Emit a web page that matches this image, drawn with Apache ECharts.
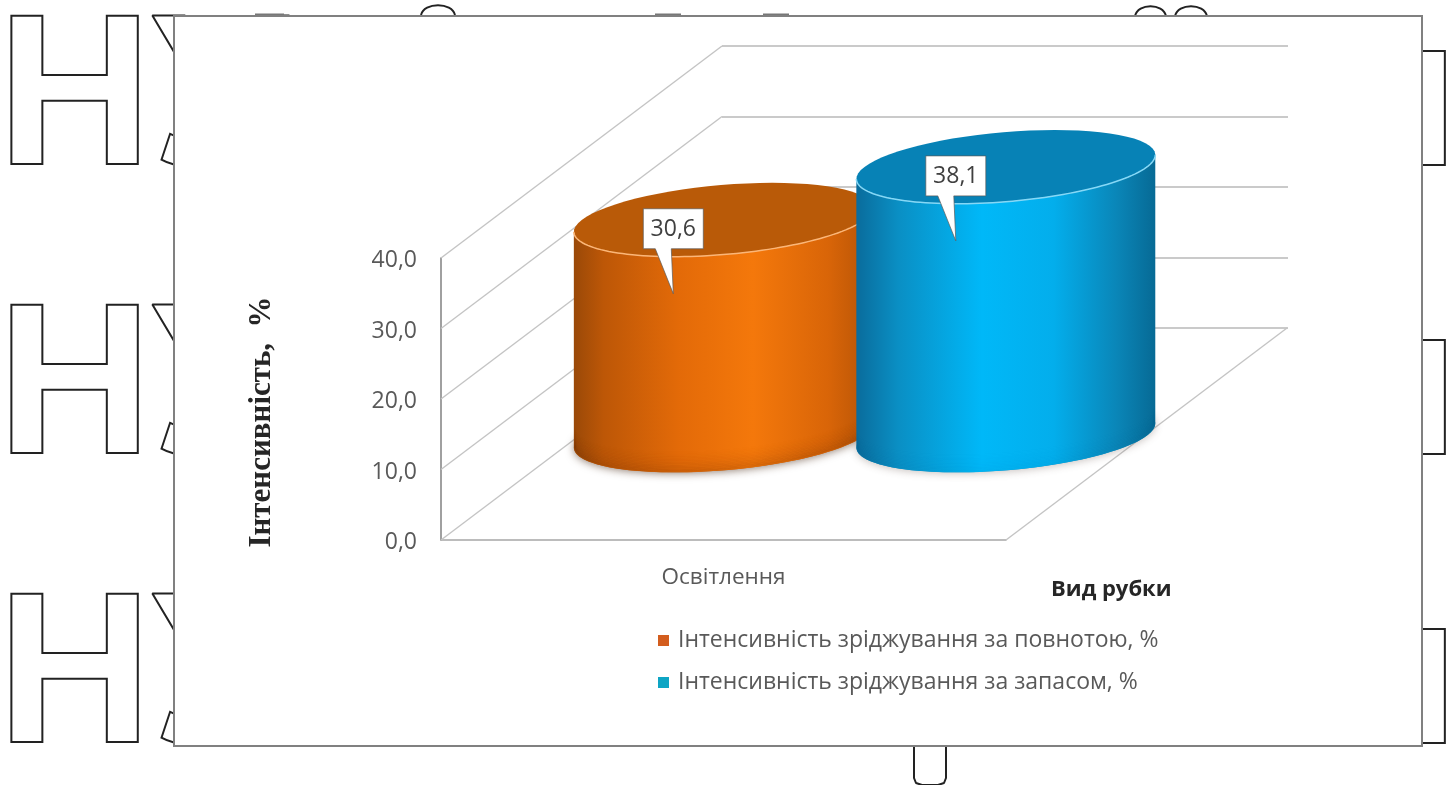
<!DOCTYPE html>
<html>
<head>
<meta charset="utf-8">
<style>html,body{margin:0;padding:0;background:#fff}#chart{width:1456px;height:785px}</style>
<script src="https://cdn.jsdelivr.net/npm/echarts@6/dist/echarts.min.js"></script>
</head>
<body>
<div id="chart"></div>
<script>
// Chart data
const categories = ['Освітлення'];
const seriesNames = ['Інтенсивність зріджування за повнотою, %', 'Інтенсивність зріджування за запасом, %'];
const fullnessValues = [30.6];
const stockValues = [38.1];
const tickValues = [0, 10, 20, 30, 40];
const yAxisTitle = 'Інтенсивність,  %';
const xAxisTitle = 'Вид рубки';

// Oblique projection of the chart box
const DEPTH_X = 281, DEPTH_Y = -212;   // front plane to back wall
const CENTER_DEPTH_X = 0.502;          // cylinder axis inside the box, horizontally
const CENTER_DEPTH_Y = 0.493;          // and vertically
const DEPTH_RADIUS = 0.174;            // cylinder radius along the depth direction

const UI_FONT = '"Open Sans", "Noto Sans", sans-serif';
const GRID_COLOR = '#c4c4c4';
const BACK_GRID_COLOR = '#b9b9b9';

const fmt = v => v.toFixed(1).replace('.', ',');

const palettes = [
  {
    legend: '#d35d1e',
    side: [[0, '#9a4908'], [0.1, '#bd5707'], [0.35, '#e36a08'], [0.6, '#f4780b'], [0.85, '#d96508'], [1, '#b55306']],
    top: '#b95a08', rim: '#fbb678', shade: [90, 35, 0], shadeAlpha: 0.16, shadow: 'rgba(70,40,20,0.6)'
  },
  {
    legend: '#0ea5c4',
    side: [[0, '#0a6c9c'], [0.14, '#0a8fc4'], [0.42, '#00b8f8'], [0.66, '#03aeec'], [0.87, '#0a86b8'], [1, '#076a95']],
    top: '#0782b6', rim: '#86d8f6', shade: [0, 60, 100], shadeAlpha: 0.03, shadow: 'rgba(90,70,60,0.35)'
  }
];

function ringPoints(cx, cy, a, dx, dy, from, to) {
  const pts = [];
  const n = 72;
  for (let i = 0; i <= n; i++) {
    const t = from + (to - from) * i / n;
    pts.push([cx + Math.cos(t) * a + Math.sin(t) * dx, cy + Math.sin(t) * dy]);
  }
  return pts;
}

function cylinderRenderer(slot) {
  const pal = palettes[slot];
  return function (params, api) {
    const cat = api.value(0), val = api.value(1);
    const base = api.coord([cat, 0]);
    const head = api.coord([cat, val]);
    const band = api.size([1, 0])[0];
    const cx = base[0] + (slot - 0.5) * band / 2 + DEPTH_X * CENTER_DEPTH_X;
    const baseY = base[1] + DEPTH_Y * CENTER_DEPTH_Y;
    const topY = head[1] + DEPTH_Y * CENTER_DEPTH_Y;
    const a = band / 4;
    const dx = DEPTH_X * DEPTH_RADIUS, dy = DEPTH_Y * DEPTH_RADIUS;
    const t0 = Math.atan2(dx, a);
    const left = t0 + Math.PI, right = t0 + 2 * Math.PI;

    const bottomArc = ringPoints(cx, baseY, a, dx, dy, left, right);
    const rimArc = ringPoints(cx, topY, a, dx, dy, left, right);
    const body = bottomArc.concat(rimArc.slice().reverse());

    // Darkening that follows the lower edge of the body
    const edgeShade = [];
    const shadeSteps = 16;
    for (let i = 0; i < shadeSteps; i++) {
      const fade = 1 - i / shadeSteps;
      edgeShade.push({
        type: 'polyline',
        shape: { points: ringPoints(cx, baseY - 1 - i * 1.4, a - 1, dx, dy, left, right) },
        style: { fill: null, stroke: `rgba(${pal.shade.join(',')},${(pal.shadeAlpha * fade * fade).toFixed(3)})`, lineWidth: 1.6 }
      });
    }

    // Callout anchored on the cap of the cylinder
    const bx0 = cx - 80, bx1 = cx - 20, by0 = topY - 11, by1 = topY + 29;
    const callout = [[bx0, by0], [bx1, by0], [bx1, by1], [cx - 52, by1], [cx - 50, topY + 74], [cx - 68, by1], [bx0, by1]];

    return {
      type: 'group',
      children: [
        { type: 'polygon', shape: { points: ringPoints(cx, baseY, a, dx, dy, 0, 2 * Math.PI) },
          style: { fill: pal.side[1][1], shadowBlur: 9, shadowColor: pal.shadow, shadowOffsetY: 1 } },
        { type: 'polygon', shape: { points: body },
          style: { fill: { type: 'linear', x: 0, y: 0, x2: 1, y2: 0, colorStops: pal.side.map(s => ({ offset: s[0], color: s[1] })) } } },
        ...edgeShade,
        { type: 'polygon', shape: { points: ringPoints(cx, topY, a, dx, dy, 0, 2 * Math.PI) },
          style: { fill: pal.top } },
        { type: 'polyline', shape: { points: rimArc },
          style: { fill: null, stroke: pal.rim, lineWidth: 1.5 } },
        { type: 'polygon', shape: { points: callout },
          style: { fill: '#ffffff', stroke: 'rgba(90,90,90,0.7)', lineWidth: 1 } },
        { type: 'text',
          style: { x: (bx0 + bx1) / 2, y: (by0 + by1) / 2 + 1, text: fmt(val), fill: '#404040',
                   font: '23px ' + UI_FONT, align: 'center', verticalAlign: 'middle' } }
      ]
    };
  };
}

// Receding wall and floor lines, drawn per axis tick from the front plane
function wallRenderer(params, api) {
  const v = api.value(0);
  const sys = params.coordSys;
  const y = api.coord([0, v])[1];
  const lineStyle = { stroke: GRID_COLOR, lineWidth: 1.4, fill: null };
  const children = [
    { type: 'line', shape: { x1: sys.x, y1: y, x2: sys.x + DEPTH_X, y2: y + DEPTH_Y }, style: lineStyle }
  ];
  if (v === 0) {
    children.push({ type: 'line', shape: { x1: sys.x + sys.width, y1: y, x2: sys.x + sys.width + DEPTH_X, y2: y + DEPTH_Y }, style: lineStyle });
  }
  return { type: 'group', children };
}

const hollowFont = 'bold 215px "Liberation Sans"';
const outline = { stroke: '#222', lineWidth: 2, lineJoin: 'round' };
const hollowLetter = (text, x, y) => ({
  type: 'text', z: -3,
  style: Object.assign({ x, y, text, font: hollowFont, fill: 'transparent', align: 'left', verticalAlign: 'top' }, outline)
});
const arcPiece = (x1, x2, y) => ({
  type: 'bezierCurve', z: -3,
  shape: { x1, y1: y, x2, y2: y, cpx1: x1 + 3, cpy1: y - 13, cpx2: x2 - 3, cpy2: y - 13 },
  style: Object.assign({ fill: 'transparent' }, outline)
});

const background = [];
[0, 289, 578].forEach(shift => {
  background.push(hollowLetter('НУ', -3, -3 + shift));
  background.push(hollowLetter('н', 1330, -2 + shift));
});
background.push(arcPiece(421, 455, 15), arcPiece(1135, 1166, 16), arcPiece(1175, 1207, 16));
background.push({
  type: 'polyline', z: -3,
  shape: { points: [[914, 746], [914, 778], [916, 783], [922, 785], [938, 785], [944, 783], [946, 778], [946, 746]] },
  style: Object.assign({ fill: 'transparent' }, outline)
});
[[255, 29], [655, 26], [763, 26]].forEach(s => background.push({
  type: 'rect', z: -3, shape: { x: s[0], y: 13.5, width: s[1], height: 2 }, style: { fill: '#777' }
}));
background.push({
  type: 'rect', z: -2, shape: { x: 174, y: 16, width: 1248, height: 730 },
  style: { fill: '#fff', stroke: '#808080', lineWidth: 2 }
});

const chart = echarts.init(document.getElementById('chart'));
chart.setOption({
  animation: false,
  backgroundColor: '#fff',
  graphic: { elements: background },
  legend: {
    data: seriesNames, orient: 'vertical', left: 653, top: 624, itemWidth: 11, itemHeight: 11, itemGap: 19,
    icon: 'rect',
    textStyle: { color: '#595959', fontSize: 23, fontFamily: UI_FONT, padding: [0, 0, 0, 4] }
  },
  grid: [
    { left: 441, top: 258, width: 565, height: 282 },
    { left: 722, top: 46, width: 566, height: 282 }
  ],
  xAxis: [
    { type: 'category', gridIndex: 0, data: categories,
      axisLine: { lineStyle: { color: '#a6a6a6', width: 1.5 } }, axisTick: { show: false },
      axisLabel: { color: '#595959', fontSize: 22.5, fontFamily: UI_FONT, margin: 26 },
      name: xAxisTitle, nameLocation: 'end', nameGap: 45,
      nameTextStyle: { color: '#262626', fontSize: 22, fontWeight: 'bold', fontFamily: UI_FONT, align: 'left', verticalAlign: 'top', padding: [39, 0, 0, 0] } },
    { type: 'category', gridIndex: 1, data: categories, axisLine: { show: false }, axisTick: { show: false }, axisLabel: { show: false } }
  ],
  yAxis: [
    { type: 'value', gridIndex: 0, min: 0, max: 40, interval: 10,
      axisLine: { show: true, lineStyle: { color: '#808080', width: 1.5 } }, axisTick: { show: false },
      axisLabel: { color: '#595959', fontSize: 23, fontFamily: UI_FONT, margin: 24, verticalAlign: 'top', padding: [-9, 0, 0, 0], formatter: fmt },
      splitLine: { show: false },
      name: yAxisTitle, nameLocation: 'middle', nameRotate: 90, nameGap: 164,
      nameTextStyle: { color: '#262626', fontSize: 31, fontWeight: 'bold', fontFamily: '"Liberation Serif", serif', padding: [0, 46, 0, 0] } },
    { type: 'value', gridIndex: 1, min: 0, max: 40, interval: 10,
      axisLine: { show: false }, axisTick: { show: false }, axisLabel: { show: false },
      splitLine: { show: true, lineStyle: { color: BACK_GRID_COLOR, width: 1.6 } } }
  ],
  series: [
    { type: 'custom', name: 'walls', xAxisIndex: 0, yAxisIndex: 0, z: 1, silent: true,
      data: tickValues.map(v => [v]), encode: { y: 0 }, renderItem: wallRenderer },
    { type: 'custom', name: seriesNames[0], xAxisIndex: 0, yAxisIndex: 0, z: 3, silent: true,
      itemStyle: { color: palettes[0].legend }, encode: { x: 0, y: 1 },
      data: fullnessValues.map((v, i) => [i, v]), renderItem: cylinderRenderer(0) },
    { type: 'custom', name: seriesNames[1], xAxisIndex: 0, yAxisIndex: 0, z: 4, silent: true,
      itemStyle: { color: palettes[1].legend }, encode: { x: 0, y: 1 },
      data: stockValues.map((v, i) => [i, v]), renderItem: cylinderRenderer(1) }
  ]
});
</script>
</body>
</html>
